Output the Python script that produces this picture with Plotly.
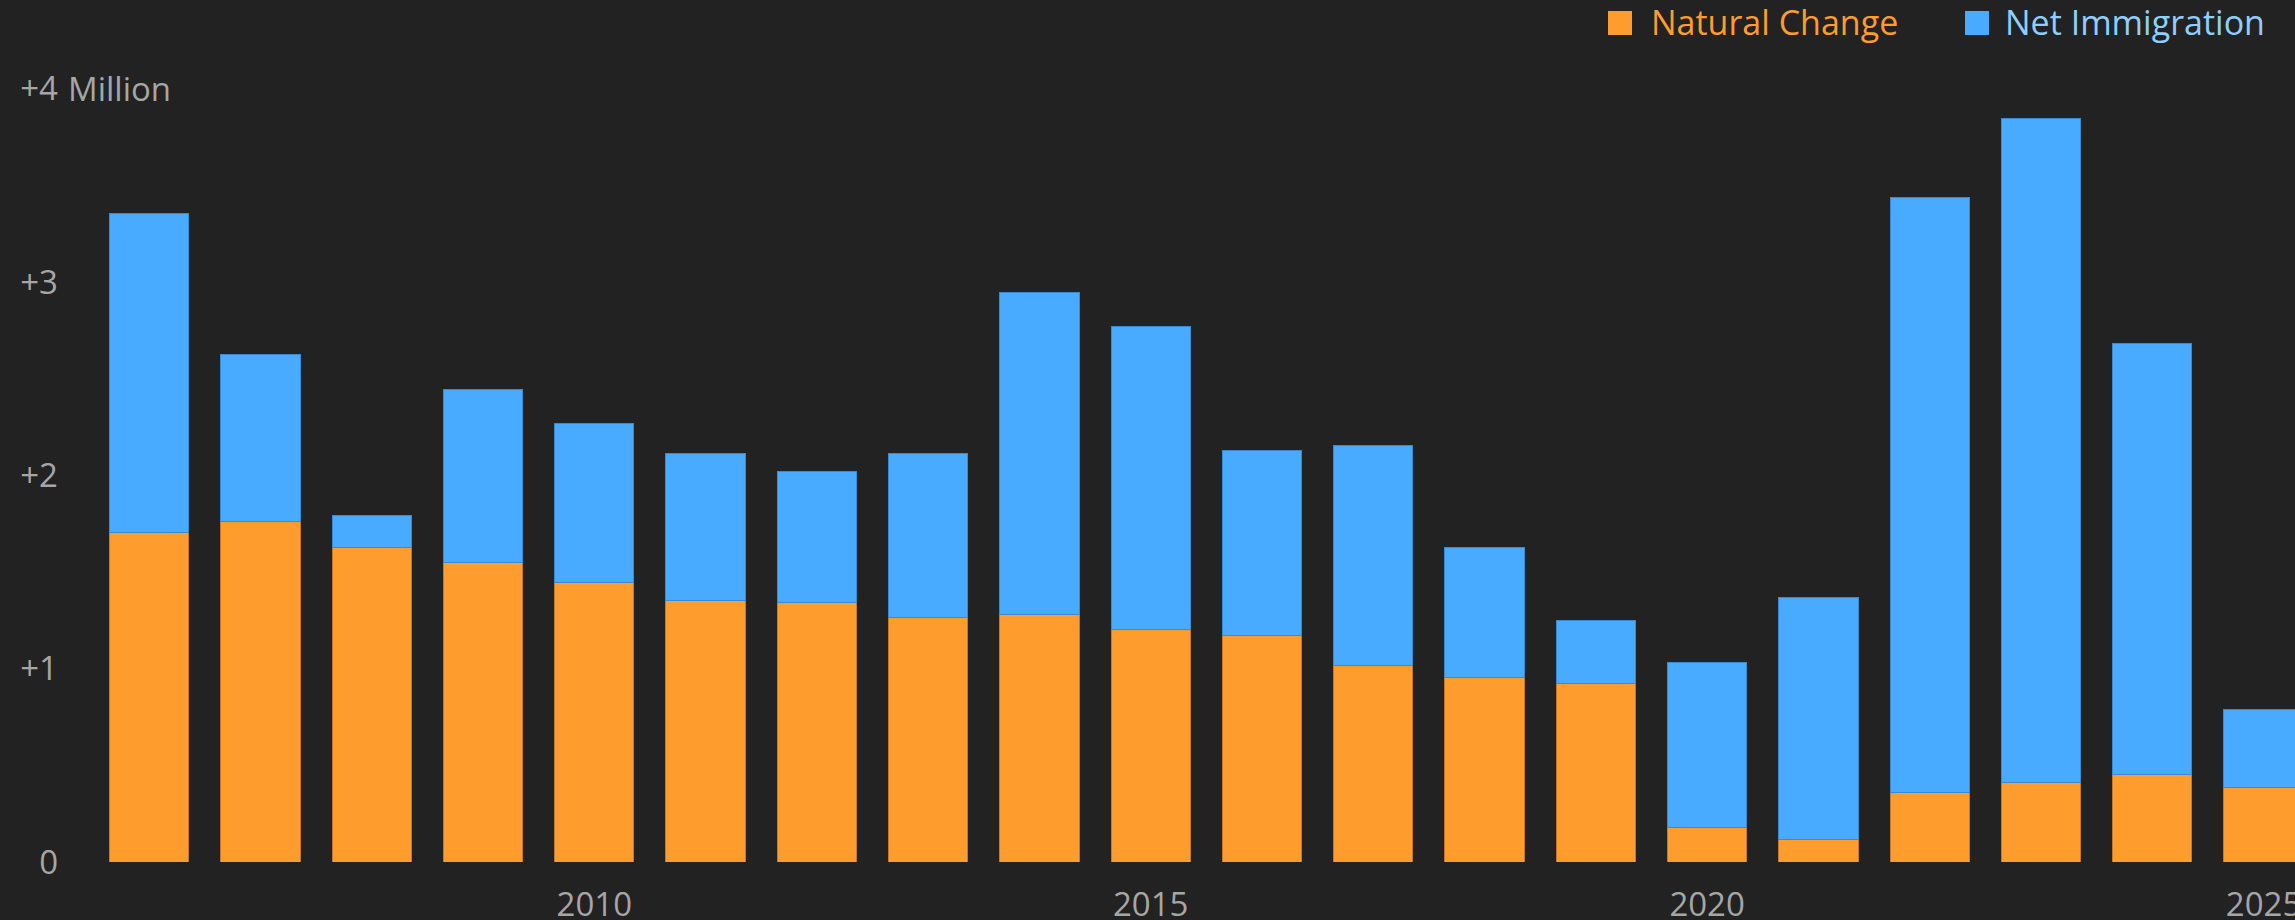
import plotly.graph_objects as go

years = [2006, 2007, 2008, 2009, 2010, 2011, 2012, 2013, 2014, 2015,
         2016, 2017, 2018, 2019, 2020, 2021, 2022, 2023, 2024, 2025]
natural_change = [1.705, 1.764, 1.628, 1.552, 1.446, 1.355, 1.340, 1.264, 1.279, 1.204,
                  1.173, 1.014, 0.954, 0.924, 0.181, 0.117, 0.362, 0.412, 0.455, 0.388]
net_immigration = [1.650, 0.864, 0.166, 0.893, 0.825, 0.757, 0.681, 0.848, 1.666, 1.567,
                   0.954, 1.143, 0.674, 0.325, 0.849, 1.253, 3.075, 3.434, 2.225, 0.402]
x_tick_vals = [2010, 2015, 2020, 2025]
x_tick_text = ["2010", "2015", "2020", "2025"]
y_tick_vals = [0, 1, 2, 3, 4]
y_tick_text = ["0", "+1", "+2", "+3", "+4"]
series_names = ["Natural Change", "Net Immigration"]

BG = "#222222"
ORANGE = "#FF9C2E"
BLUE = "#48ABFF"
ORANGE_TXT = "#FF9C2E"
BLUE_TXT = "#8FCFFF"
GREY = "#A6A6A6"
FONT = "Open Sans, Liberation Sans, Arial, sans-serif"

W, H = 2295, 920
ML, MR, MT, MB = 70, 0, 60, 58
plot_w = W - ML - MR
plot_h = H - MT - MB

fig = go.Figure()
fig.add_trace(go.Bar(x=years, y=natural_change, name=series_names[0],
                     marker=dict(color=ORANGE, line=dict(color="#C47A28", width=1)),
                     showlegend=False))
fig.add_trace(go.Bar(x=years, y=net_immigration, name=series_names[1],
                     marker=dict(color=BLUE, line=dict(color="#3A8AD0", width=1)),
                     showlegend=False))

def px_x(p):
    return (p - ML) / plot_w

def px_y(p):
    return (H - MB - p) / plot_h

# custom legend (large square swatches)
legend_items = [
    (1608, 1649, ORANGE, ORANGE_TXT, series_names[0]),
    (1965, 2003, BLUE, BLUE_TXT, series_names[1]),
]
for sx, tx, col, tcol, label in legend_items:
    fig.add_shape(type="rect", xref="paper", yref="paper",
                  x0=px_x(sx), x1=px_x(sx + 24), y0=px_y(35), y1=px_y(11),
                  fillcolor=col, line=dict(width=0))
    fig.add_annotation(xref="paper", yref="paper", x=px_x(tx), y=px_y(22),
                       xanchor="left", yanchor="middle", showarrow=False,
                       text=label, font=dict(family=FONT, size=34, color=tcol))

# "Million" unit next to top tick label
fig.add_annotation(xref="paper", yref="y", x=px_x(66), y=4,
                   xanchor="left", yanchor="middle", showarrow=False,
                   text="Million", font=dict(family=FONT, size=33, color=GREY))

fig.update_layout(
    width=W, height=H,
    paper_bgcolor=BG, plot_bgcolor=BG,
    margin=dict(l=ML, r=MR, t=MT, b=MB, pad=0, autoexpand=False),
    barmode="stack", bargap=0.287,
    font=dict(family=FONT, color=GREY, size=33),
    xaxis=dict(range=[2005.2883, 2025.283], tickmode="array",
               tickvals=x_tick_vals, ticktext=x_tick_text,
               showgrid=False, zeroline=False, showline=False, ticks="",
               ticklabelstandoff=20, ticklabeloverflow="allow", automargin=False,
               tickfont=dict(family=FONT, size=33, color=GREY)),
    yaxis=dict(range=[0, plot_h / 193.3], tickmode="array",
               tickvals=y_tick_vals, ticktext=y_tick_text,
               showgrid=False, zeroline=False, showline=False, ticks="",
               ticklabelstandoff=11, ticklabeloverflow="allow", automargin=False,
               tickfont=dict(family=FONT, size=33, color=GREY)),
)

fig.write_html("out.html",
               config={"displayModeBar": False},
               post_script="document.body.style.margin='0';document.body.style.overflow='hidden';document.body.style.background='#222222';")
